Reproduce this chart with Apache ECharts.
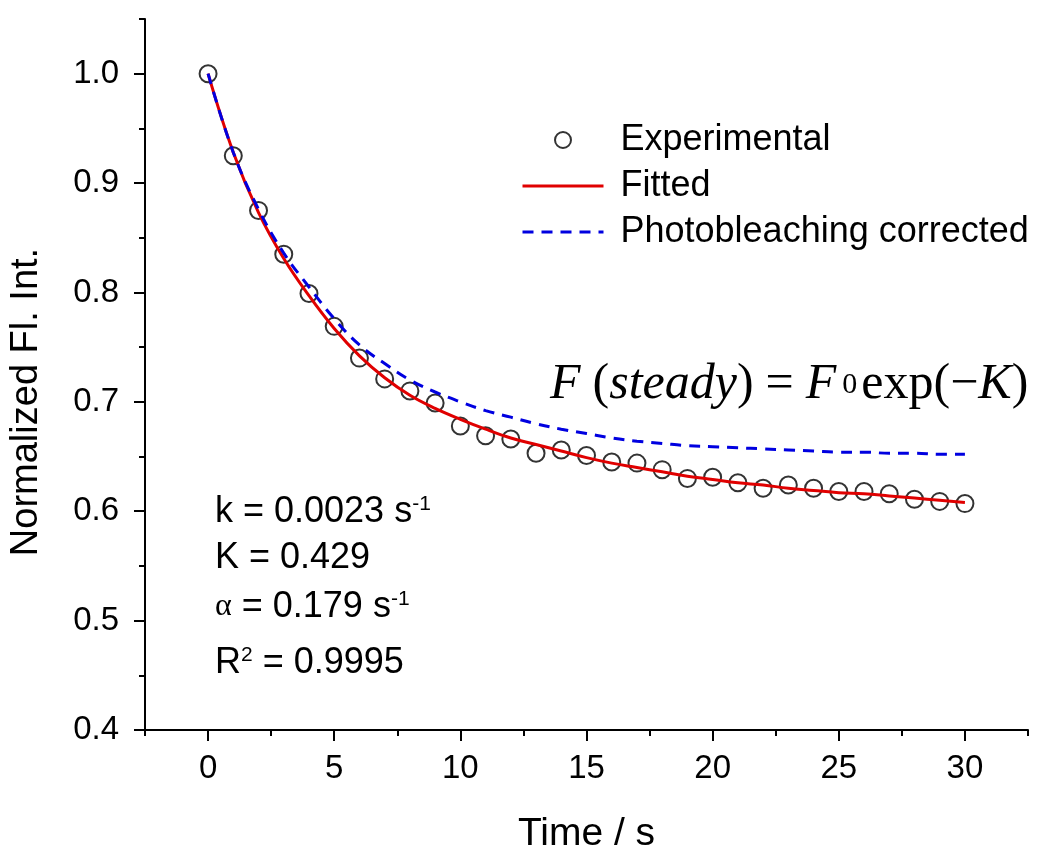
<!DOCTYPE html>
<html>
<head>
<meta charset="utf-8">
<script src="https://cdn.jsdelivr.net/npm/echarts@6/dist/echarts.min.js"></script>
<style>
  html, body { margin: 0; padding: 0; background: #fff; }
  #chart { width: 1050px; height: 861px; }
</style>
</head>
<body>
<div id="chart"></div>
<script>
// time points (s)
var times = [0, 1, 2, 3, 4, 5, 6, 7, 8, 9, 10, 11, 12, 13, 14, 15, 16, 17, 18, 19, 20,
  21, 22, 23, 24, 25, 26, 27, 28, 29, 30];
// measured points (circles)
var experimental = [1.000, 0.925, 0.875, 0.835, 0.799, 0.769, 0.740, 0.721, 0.710, 0.699, 0.678,
  0.669, 0.666, 0.653, 0.656, 0.651, 0.645, 0.644, 0.638, 0.630, 0.631,
  0.626, 0.621, 0.624, 0.621, 0.618, 0.618, 0.616, 0.611, 0.609, 0.607];
// fitted curve (red)
var fitted = [1.000, 0.928, 0.873, 0.831, 0.797, 0.767, 0.742, 0.722, 0.706, 0.694, 0.684,
  0.675, 0.667, 0.661, 0.655, 0.649, 0.644, 0.640, 0.636, 0.632, 0.629,
  0.626, 0.624, 0.621, 0.619, 0.617, 0.616, 0.614, 0.612, 0.610, 0.608];
// photobleaching corrected curve (blue dashed)
var corrected = [1.000, 0.928, 0.876, 0.836, 0.805, 0.776, 0.752, 0.735, 0.720, 0.709, 0.700,
  0.692, 0.686, 0.680, 0.675, 0.671, 0.667, 0.664, 0.662, 0.660, 0.659,
  0.658, 0.657, 0.656, 0.655, 0.654, 0.654, 0.653, 0.653, 0.652, 0.652];

// axis ticks
var xMajorTicks = [0, 5, 10, 15, 20, 25, 30];
var xMinorTicks = [-2.5, 2.5, 7.5, 12.5, 17.5, 22.5, 27.5, 32.5];
var yMajorTicks = [0.4, 0.5, 0.6, 0.7, 0.8, 0.9, 1.0];
var yMinorTicks = [0.45, 0.55, 0.65, 0.75, 0.85, 0.95, 1.05];

function pairs(ys) {
  return times.map(function (t, i) { return [t, ys[i]]; });
}

var chart = echarts.init(document.getElementById('chart'));
var FONT = 'Liberation Sans, Arial, sans-serif';
var SERIF = 'Liberation Serif, Times New Roman, serif';

var option = {
  animation: false,
  backgroundColor: '#fff',
  grid: { left: 145, right: 22, top: 19, bottom: 131 },
  legend: {
    orient: 'vertical',
    left: 516,
    top: 117,
    itemWidth: 81,
    itemHeight: 16,
    itemGap: 10,
    textStyle: { fontFamily: FONT, fontSize: 36, color: '#000', padding: [0, 0, 0, 12] },
    data: [
      { name: 'Experimental' },
      { name: 'Fitted', itemStyle: { opacity: 0 }, lineStyle: { width: 3 } },
      { name: 'Photobleaching corrected', itemStyle: { opacity: 0 }, lineStyle: { width: 3 } }
    ]
  },
  xAxis: [
    {
      type: 'value', min: -2.5, max: 32.5, position: 'bottom',
      name: 'Time / s', nameLocation: 'middle', nameGap: 85,
      nameTextStyle: { fontFamily: FONT, fontSize: 39, color: '#000' },
      axisLine: { show: true, onZero: false, lineStyle: { color: '#000', width: 2 } },
      axisTick: { show: true, length: 11, customValues: xMajorTicks, lineStyle: { color: '#000', width: 2 } },
      axisLabel: { customValues: xMajorTicks, margin: 22, fontFamily: FONT, fontSize: 33, color: '#000' },
      splitLine: { show: false }
    },
    {
      type: 'value', min: -2.5, max: 32.5, position: 'bottom',
      axisLine: { show: false, onZero: false },
      axisTick: { show: true, length: 6, customValues: xMinorTicks, lineStyle: { color: '#000', width: 2 } },
      axisLabel: { show: false },
      splitLine: { show: false }
    }
  ],
  yAxis: [
    {
      type: 'value', min: 0.4, max: 1.05, position: 'left',
      axisLine: { show: true, onZero: false, lineStyle: { color: '#000', width: 2 } },
      axisTick: { show: true, length: 11, customValues: yMajorTicks, lineStyle: { color: '#000', width: 2 } },
      axisLabel: {
        customValues: yMajorTicks, margin: 26, fontFamily: FONT, fontSize: 33, color: '#000',
        formatter: function (v) { return v.toFixed(1); }
      },
      splitLine: { show: false }
    },
    {
      type: 'value', min: 0.4, max: 1.05, position: 'left',
      axisLine: { show: false, onZero: false },
      axisTick: { show: true, length: 6, customValues: yMinorTicks, lineStyle: { color: '#000', width: 2 } },
      axisLabel: { show: false },
      splitLine: { show: false }
    }
  ],
  series: [
    {
      name: 'Experimental', type: 'scatter', xAxisIndex: 0, yAxisIndex: 0,
      symbol: 'emptyCircle', symbolSize: 17, z: 2,
      itemStyle: { color: '#000', borderColor: '#000', borderWidth: 1.9 },
      data: pairs(experimental)
    },
    {
      name: 'Fitted', type: 'line', xAxisIndex: 0, yAxisIndex: 0,
      smooth: 0.4, showSymbol: false, symbol: 'none', z: 3,
      itemStyle: { color: '#e00000' },
      lineStyle: { color: '#e00000', width: 3 },
      data: pairs(fitted)
    },
    {
      name: 'Photobleaching corrected', type: 'line', xAxisIndex: 0, yAxisIndex: 0,
      smooth: 0.4, showSymbol: false, symbol: 'none', z: 4,
      itemStyle: { color: '#0000e0' },
      lineStyle: { color: '#0000e0', width: 3, type: [11, 8] },
      data: pairs(corrected)
    }
  ],
  graphic: [
    {
      type: 'text', x: 27, y: 402, rotation: Math.PI / 2,
      style: {
        text: 'Normalized Fl. Int.', fontFamily: FONT, fontSize: 38, fill: '#000',
        align: 'center', verticalAlign: 'middle'
      }
    },
    {
      type: 'text', x: 550, y: 385,
      style: {
        text: '{i|F}{p|(}{i|steady}{n|)}{e|=}{i|F}{s|0}{n|exp(\u2212}{i|K}{n|)}',
        verticalAlign: 'middle', fill: '#000',
        rich: {
          i: { fontFamily: SERIF, fontSize: 50, fontStyle: 'italic', fill: '#000' },
          n: { fontFamily: SERIF, fontSize: 50, fill: '#000' },
          p: { fontFamily: SERIF, fontSize: 50, fill: '#000', padding: [0, 0, 0, 12] },
          e: { fontFamily: SERIF, fontSize: 50, fill: '#000', padding: [0, 12, 0, 12] },
          s: { fontFamily: SERIF, fontSize: 30, fill: '#000', padding: [0, 4, 0, 6] }
        }
      }
    },
    {
      type: 'text', x: 215, y: 512,
      style: {
        text: '{n|k = 0.0023 s}{p|-1}', verticalAlign: 'middle',
        rich: {
          n: { fontFamily: FONT, fontSize: 36, fill: '#000' },
          p: { fontFamily: FONT, fontSize: 21, fill: '#000', verticalAlign: 'top' }
        }
      }
    },
    {
      type: 'text', x: 215, y: 558,
      style: { text: 'K = 0.429', fontFamily: FONT, fontSize: 36, fill: '#000', verticalAlign: 'middle' }
    },
    {
      type: 'text', x: 215, y: 607,
      style: {
        text: '{a|\u03b1}{n| = 0.179 s}{p|-1}', verticalAlign: 'middle',
        rich: {
          a: { fontFamily: SERIF, fontSize: 32, fill: '#000' },
          n: { fontFamily: FONT, fontSize: 36, fill: '#000' },
          p: { fontFamily: FONT, fontSize: 21, fill: '#000', verticalAlign: 'top' }
        }
      }
    },
    {
      type: 'text', x: 215, y: 663,
      style: {
        text: '{n|R}{p|2}{n| = 0.9995}', verticalAlign: 'middle',
        rich: {
          n: { fontFamily: FONT, fontSize: 36, fill: '#000' },
          p: { fontFamily: FONT, fontSize: 21, fill: '#000', verticalAlign: 'top' }
        }
      }
    }
  ]
};

chart.setOption(option);
</script>
</body>
</html>
